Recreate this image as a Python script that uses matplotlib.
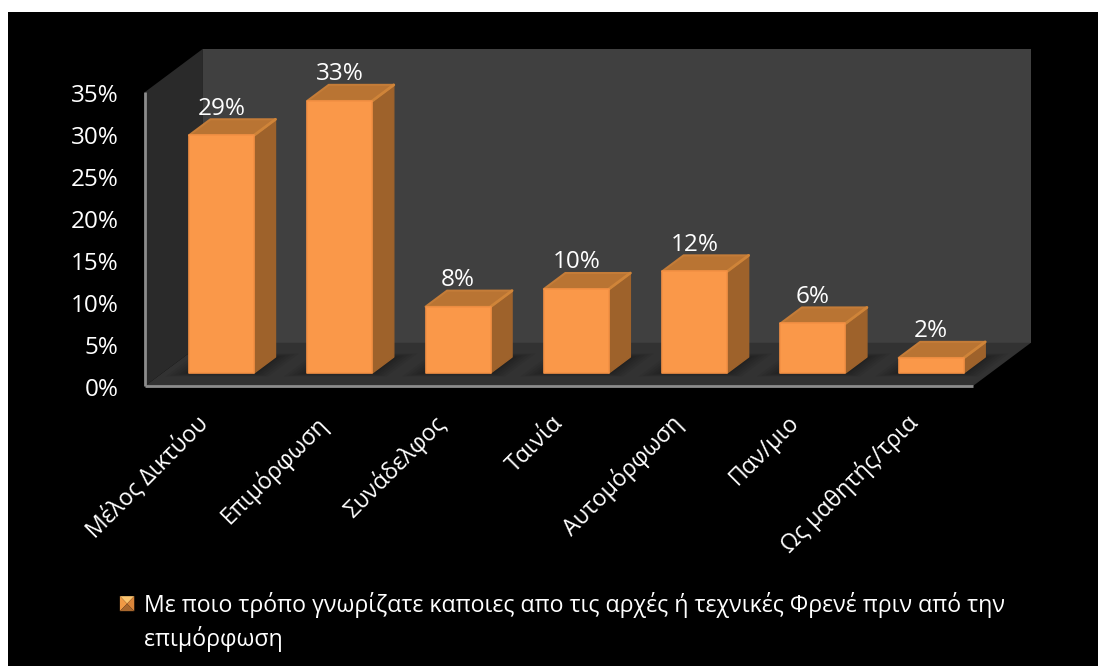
"""
Recreates the pseudo-3D orange column chart on a black panel.
"""

import matplotlib
matplotlib.use("Agg")
import matplotlib.pyplot as plt
from matplotlib.legend_handler import HandlerBase
from matplotlib.patches import Patch, Polygon, Rectangle
from matplotlib.transforms import ScaledTranslation

plt.rcParams["font.family"] = ["Open Sans", "DejaVu Sans"]

categories = [
    "Μέλος Δικτύου",
    "Επιμόρφωση",
    "Συνάδελφος",
    "Ταινία",
    "Αυτομόρφωση",
    "Παν/μιο",
    "Ως μαθητής/τρια",
]
values = [28.3, 32.4, 7.9, 10.0, 12.1, 5.9, 1.8]
value_labels = ["29%", "33%", "8%", "10%", "12%", "6%", "2%"]
y_ticks = [0, 5, 10, 15, 20, 25, 30, 35]
legend_label = (
    "Με ποιο τρόπο γνωρίζατε καποιες απο τις αρχές ή τεχνικές Φρενέ πριν από την\n"
    "επιμόρφωση"
)

# depth of the box, in data units of the front plane
DEPTH_X = 0.49
DEPTH_Y = 5.15
BAR_FRONT = 0.30
BAR_BACK = 0.67
BAR_WIDTH = 0.55


def project(x, y, d):
    return (x + d * DEPTH_X, y + d * DEPTH_Y)


def face(ax, points, color, edge=None, lw=0.0, z=1, alpha=None):
    poly = Polygon(
        points,
        closed=True,
        facecolor=color,
        edgecolor=edge if edge else "none",
        linewidth=lw,
        joinstyle="round",
        alpha=alpha,
        zorder=z,
        clip_on=False,
    )
    ax.add_patch(poly)
    return poly


def draw_walls(ax, n):
    top = y_ticks[-1]
    # back wall, side wall and floor
    face(ax, [project(0, 0, 1), project(n, 0, 1), project(n, top, 1), project(0, top, 1)], "#404040", z=1)
    face(ax, [project(0, 0, 0), project(0, 0, 1), project(0, top, 1), project(0, top, 0)], "#2a2a2a", z=1)
    face(ax, [project(0, 0, 0), project(n, 0, 0), project(n, 0, 1), project(0, 0, 1)], "#323232", z=1)


def draw_shadow(ax, left, right):
    # soft shadow on the floor, built from stacked transparent layers
    for grow in [0.16, 0.13, 0.10, 0.07, 0.04, 0.02]:
        near = BAR_FRONT - grow * 0.5
        far = BAR_BACK + grow * 0.5
        face(
            ax,
            [
                project(left - grow, 0, near),
                project(right + grow, 0, near),
                project(right + grow, 0, far),
                project(left - grow, 0, far),
            ],
            "#000000",
            z=2,
            alpha=0.06,
        )


def draw_bar(ax, center, value, label):
    left = center - BAR_WIDTH / 2
    right = center + BAR_WIDTH / 2

    face(
        ax,
        [
            project(right, 0, BAR_FRONT),
            project(right, 0, BAR_BACK),
            project(right, value, BAR_BACK),
            project(right, value, BAR_FRONT),
        ],
        "#9e622b",
        edge="#9e622b",
        lw=1.0,
        z=3,
    )
    face(
        ax,
        [
            project(left, value, BAR_FRONT),
            project(right, value, BAR_FRONT),
            project(right, value, BAR_BACK),
            project(left, value, BAR_BACK),
        ],
        "#b97433",
        edge="#c47c38",
        lw=1.5,
        z=3,
    )
    # lighter bevel along the right edge of the top
    edge_x, edge_y = zip(project(right, value, BAR_FRONT), project(right, value, BAR_BACK))
    ax.plot(edge_x, edge_y, color="#cf8439", lw=2.0, solid_capstyle="round", zorder=3.5, clip_on=False)
    face(
        ax,
        [
            project(left, 0, BAR_FRONT),
            project(right, 0, BAR_FRONT),
            project(right, value, BAR_FRONT),
            project(left, value, BAR_FRONT),
        ],
        "#fa9849",
        edge="#f39044",
        lw=1.2,
        z=4,
    )

    x, y = project(center, value, BAR_BACK)
    x -= (BAR_BACK - BAR_FRONT) * DEPTH_X
    ax.annotate(
        label,
        (x, y),
        xytext=(0, -1),
        textcoords="offset points",
        ha="center",
        va="bottom",
        color="white",
        fontsize=17.5,
        zorder=6,
        annotation_clip=False,
    )


class PyramidHandler(HandlerBase):
    # bevelled legend key, four triangles around the centre
    def create_artists(self, legend, orig_handle, xdescent, ydescent, width, height, fontsize, trans):
        x0 = -xdescent
        y0 = -ydescent + fontsize * 0.83
        x1 = x0 + width
        y1 = y0 + height
        xm = (x0 + x1) / 2
        ym = y0 + height * 0.5
        corners = [
            ([(x0, y1), (x1, y1), (xm, ym)], "#fbc46f"),
            ([(x0, y0), (x0, y1), (xm, ym)], "#f09a45"),
            ([(x1, y0), (x1, y1), (xm, ym)], "#d9853a"),
            ([(x0, y0), (x1, y0), (xm, ym)], "#a9682e"),
        ]
        return [Polygon(pts, closed=True, facecolor=c, edgecolor="none", transform=trans) for pts, c in corners]


def main():
    fig = plt.figure(figsize=(10.98, 6.66), dpi=100, facecolor="white")
    fig.add_artist(Rectangle((8 / 1098, 0), 1090 / 1098, 654 / 666, transform=fig.transFigure, facecolor="black", edgecolor="none", zorder=-1))

    ax = fig.add_axes([145 / 1098, (666 - 386) / 666, 828 / 1098, 294 / 666])
    ax.patch.set_visible(False)

    n = len(categories)
    centers = [i + 0.5 for i in range(n)]
    ax.set_xlim(0, n)
    ax.set_ylim(0, y_ticks[-1])

    draw_walls(ax, n)
    for center in centers:
        draw_shadow(ax, center - BAR_WIDTH / 2, center + BAR_WIDTH / 2)
    for center, value, label in zip(centers, values, value_labels):
        draw_bar(ax, center, value, label)

    for side in ["top", "right"]:
        ax.spines[side].set_visible(False)
    for side in ["left", "bottom"]:
        ax.spines[side].set_color("#8c8c8c")
        ax.spines[side].set_linewidth(2.0)
        ax.spines[side].set_zorder(5)
        ax.spines[side].set_capstyle("butt")

    ax.set_yticks(y_ticks)
    ax.set_yticklabels([f"{t}%" for t in y_ticks], color="white", fontsize=17.5)
    ax.set_xticks(centers)
    ax.set_xticklabels(categories, color="white", fontsize=16.7, rotation=45, ha="right", rotation_mode="anchor")
    ax.tick_params(axis="y", length=0, pad=19)
    ax.tick_params(axis="x", length=0, pad=18)

    # small nudges of the tick labels, in inches
    for tick_label in ax.get_yticklabels():
        tick_label.set_transform(tick_label.get_transform() + ScaledTranslation(0, -0.01, fig.dpi_scale_trans))
    for tick_label in ax.get_xticklabels():
        tick_label.set_transform(tick_label.get_transform() + ScaledTranslation(-0.08, 0, fig.dpi_scale_trans))

    handle = Patch(facecolor="#fa9849")
    legend = fig.legend(
        [handle],
        [legend_label],
        handler_map={Patch: PyramidHandler()},
        loc="upper left",
        bbox_to_anchor=(99 / 1098, 1 - 571 / 666),
        frameon=False,
        fontsize=16.7,
        labelcolor="white",
        handlelength=0.62,
        handleheight=0.62,
        handletextpad=0.4,
        labelspacing=0,
    )
    legend.get_texts()[0].set_linespacing(1.42)

    fig.savefig("out.png", dpi=100, facecolor="white")


if __name__ == "__main__":
    main()
